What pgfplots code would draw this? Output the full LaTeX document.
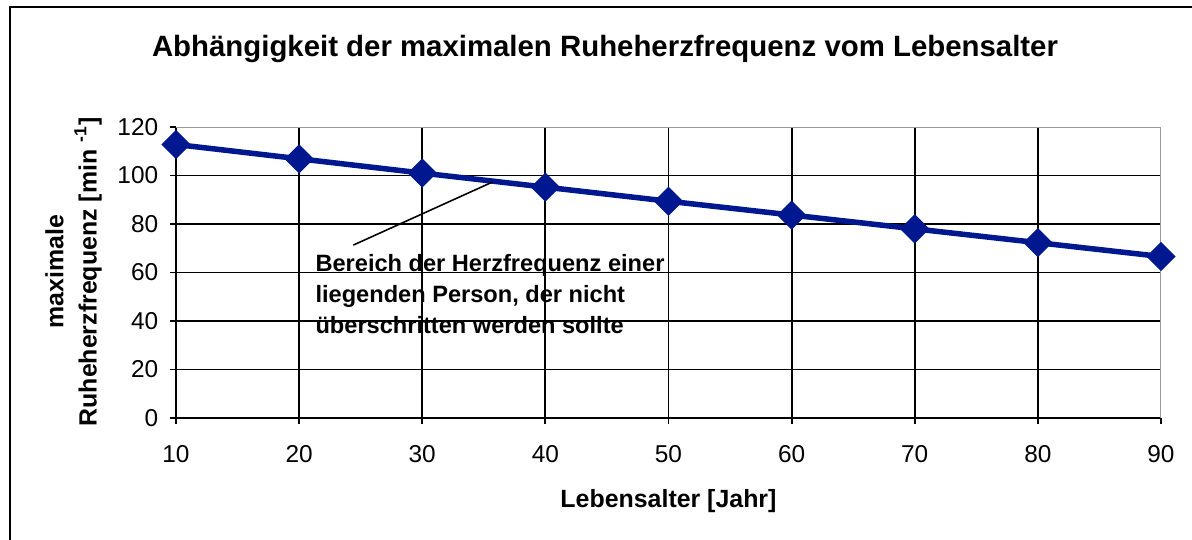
\documentclass[border=0pt]{standalone}
\usepackage{fontspec}
\setmainfont{Liberation Sans}
\usepackage{pgfplots}
\pgfplotsset{compat=1.18}
\definecolor{navy}{RGB}{0,24,143}

\begin{document}
\begin{tikzpicture}
  \useasboundingbox (0,0) rectangle (15.9728cm,7.236cm);
  % outer frame (only top and left edges visible)
  \draw[line width=0.75pt] (0.134cm,0) -- (0.134cm,7.142cm) -- (15.9728cm,7.142cm);
  \node[anchor=base, inner sep=0pt, font=\bfseries\fontsize{11.2}{13}\selectfont]
    at (8.107cm,6.476cm) {Abhängigkeit der maximalen Ruheherzfrequenz vom Lebensalter};
  \begin{axis}[
      at={(2.3584cm,1.6348cm)}, anchor=south west,
      scale only axis, width=13.199cm, height=3.899cm,
      xmin=10, xmax=90, ymin=0, ymax=120,
      xtick={10,20,...,80}, extra x ticks={90},
      ytick={0,20,...,100}, extra y ticks={120},
      extra x tick style={grid=none}, extra y tick style={grid=none},
      grid=major, grid style={black, line width=0.75pt},
      axis x line*=bottom, axis y line*=left,
      axis line style={black, line width=0.75pt, -},
      tick align=outside, major tick length=0.08cm,
      tick style={black, line width=0.75pt},
      ticklabel style={font=\fontsize{9.3}{11}\selectfont},
      xticklabel style={yshift=-4.8pt},
      yticklabel style={xshift=-1pt},
      /pgf/number format/assume math mode=true,
      xlabel={Lebensalter [Jahr]},
      xlabel style={at={(axis description cs:0.5,-0.309)}, anchor=base,
        font=\bfseries\fontsize{9.5}{11}\selectfont},
      ylabel={maximale\\Ruheherzfrequenz [min \textsuperscript{-1}]},
      ylabel style={at={(axis description cs:-0.104,0.502)}, anchor=center,
        align=center, font=\bfseries\fontsize{9.5}{12.6}\selectfont},
    ]
    \draw[gray!80, line width=0.75pt] (rel axis cs:0,1) -- (rel axis cs:1,1) -- (rel axis cs:1,0);
    \addplot[navy, line width=2.1pt, mark=square*, mark size=2.9pt,
      mark options={rotate=45, solid}] coordinates {
      (10,112.8) (20,106.9) (30,101.0) (40,95.2) (50,89.4)
      (60,83.7) (70,78.0) (80,72.3) (90,66.6)
    };
    \draw[line width=0.6pt] (axis cs:24.4,71.3) -- (axis cs:35.7,97.3);
    \node[anchor=north west, align=left, inner sep=0pt,
      font=\bfseries\fontsize{9}{11.8}\selectfont]
      at (axis cs:21.29,67.5)
      {Bereich der Herzfrequenz einer\\liegenden Person, der nicht\\überschritten werden sollte};
  \end{axis}
\end{tikzpicture}
\end{document}
